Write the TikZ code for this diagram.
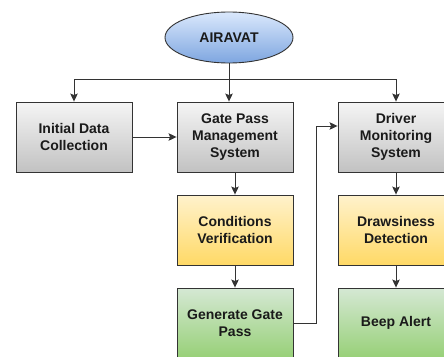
\documentclass[tikz,border=0pt]{standalone}
\usepackage{fontspec}
\setmainfont{Liberation Sans}
\usetikzlibrary{shapes.geometric,arrows.meta}
\definecolor{edge}{HTML}{333333}
\definecolor{txt}{HTML}{1A1A1A}
\tikzset{
  box/.style={draw=edge, line width=0.9pt, minimum width=116pt, minimum height=70pt,
    inner sep=2pt, align=center, text=txt,
    font=\fontsize{14pt}{16.8pt}\selectfont\bfseries},
  graybox/.style={box, top color=white!96!black, bottom color=black!24},
  yellowbox/.style={box, top color=HTML_FFF2CC, bottom color=HTML_FFD966},
  greenbox/.style={box, top color=HTML_D5E8D4, bottom color=HTML_97D077},
  link/.style={draw=edge, line width=0.9pt, -{Stealth[length=8pt,width=7.5pt,inset=1.5pt]}},
  plain/.style={draw=edge, line width=0.9pt}
}
\definecolor{HTML_FFF2CC}{HTML}{FFF2CC}
\definecolor{HTML_FFD966}{HTML}{FFD966}
\definecolor{HTML_D5E8D4}{HTML}{D5E8D4}
\definecolor{HTML_97D077}{HTML}{97D077}
\definecolor{HTML_DAE8FC}{HTML}{DAE8FC}
\definecolor{HTML_7EA6E0}{HTML}{7EA6E0}
\begin{document}
\begin{tikzpicture}[x=1pt,y=-1pt]
  \useasboundingbox (0,0) rectangle (444,356);

  % root of the hierarchy
  \node[ellipse, draw=edge, line width=0.9pt, top color=HTML_DAE8FC, bottom color=HTML_7EA6E0,
        minimum width=128pt, minimum height=51pt, inner sep=0pt, text=txt,
        font=\fontsize{14pt}{16.8pt}\selectfont\bfseries] (air) at (229,37.5) {AIRAVAT};

  % first row
  \node[graybox] (init) at (74,137) {Initial Data\\Collection};
  \node[graybox] (gate) at (235,137) {Gate Pass\\Management\\System};
  \node[graybox] (drv)  at (396,137) {Driver\\Monitoring\\System};

  % second row
  \node[yellowbox] (cond) at (235,230) {Conditions\\Verification};
  \node[yellowbox] (drow) at (396,230) {Drawsiness\\Detection};

  % third row
  \node[greenbox] (pass) at (235,323) {Generate Gate\\Pass};
  \node[greenbox] (beep) at (396,323) {Beep Alert};

  % branching from the root
  \coordinate (fork) at (229,79);
  \draw[plain] (air.south) -- (fork);
  \draw[link] (fork) -- (fork |- gate.north);
  \draw[link] (fork) -| (init.north);
  \draw[link] (fork) -| (drv.north);

  % flow inside the columns
  \draw[link] (init.east |- 0,137) -- (gate.west |- 0,137);
  \draw[link] (gate) ++(0,35) -- (cond.north);
  \draw[link] (cond.south) -- (pass.north);
  \draw[link] (drv.south) -- (drow.north);
  \draw[link] (drow.south) -- (beep.north);

  % gate pass hands over to driver monitoring
  \coordinate (bend) at (316,323);
  \draw[link] (pass.east) -- (bend) |- (drv.west |- 0,126);
\end{tikzpicture}
\end{document}
